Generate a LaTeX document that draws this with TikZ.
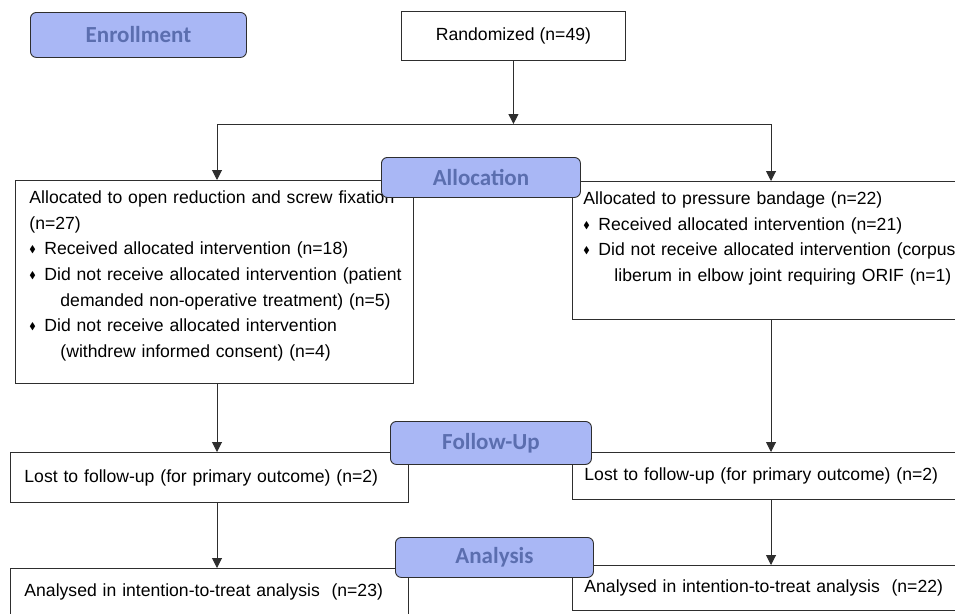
\documentclass[tikz,border=0pt]{standalone}
\usepackage{fontspec}
\usepackage{amssymb}
\setmainfont{Liberation Sans}
\newfontfamily\headfont{Carlito}
\usetikzlibrary{arrows.meta}
\definecolor{phasefill}{HTML}{A9B7F5}
\definecolor{phasetext}{HTML}{5B6EAF}
\definecolor{edgegray}{HTML}{2E2E2E}
\newcommand{\dia}{\makebox[15pt][l]{\raisebox{2pt}{\scalebox{0.55}{$\blacklozenge$}}}}
\newcommand{\cont}{\hspace*{31pt}}

\begin{document}
\begin{tikzpicture}[x=1pt, y=-1pt,
  phase/.style={draw=edgegray, line width=0.9pt, rounded corners=6pt, fill=phasefill, text=phasetext,
    font=\headfont\bfseries\fontsize{23}{26}\selectfont, anchor=north west, inner sep=0pt},
  info/.style={draw=edgegray, line width=0.9pt, fill=white, anchor=north west, align=left,
    font=\fontsize{17.6}{25.7}\selectfont, inner xsep=14pt},
  arr/.style={draw=edgegray, line width=1pt, -{Triangle[length=10pt,width=10pt]}},
  link/.style={draw=edgegray, line width=1pt}]
  \path[use as bounding box] (0,0) rectangle (955,613);
  \clip (0,0) rectangle (955,613);

  % top of the chart
  \node[info, align=center, inner sep=0pt, minimum width=224pt, minimum height=49pt] (rand) at (401,11) {Randomized (n=49)};

  % allocation
  \node[info, text width=370pt, inner ysep=10pt, text height=13pt, text depth=170pt] (orif) at (15,180)
    {\mbox{Allocated to open reduction and screw fixation}\\
     (n=27)\\
     \mbox{\dia Received allocated intervention (n=18)}\\
     \mbox{\dia Did not receive allocated intervention (patient}\\
     \mbox{\cont demanded non-operative treatment) (n=5)}\\
     \mbox{\dia Did not receive allocated intervention}\\
     \mbox{\cont (withdrew informed consent) (n=4)}};
  \node[info, text width=385pt, inner xsep=11pt, inner ysep=10pt, text height=13pt, text depth=105pt] (band) at (572,181)
    {\mbox{Allocated to pressure bandage (n=22)}\\
     \mbox{\dia Received allocated intervention (n=21)}\\
     \mbox{\dia Did not receive allocated intervention (corpus}\\
     \mbox{\cont liberum in elbow joint requiring ORIF (n=1)}};

  % follow-up
  \node[info, text width=370pt, minimum height=50pt] (lostL) at (10,452) {Lost to follow-up (for primary outcome) (n=2)};
  \node[info, text width=385pt, inner xsep=12pt, minimum height=47pt] (lostR) at (572,452) {Lost to follow-up (for primary outcome) (n=2)};

  % analysis
  \node[info, text width=370pt, minimum height=46pt] (ittL) at (10,568) {Analysed in intention-to-treat analysis\ \ (n=23)};
  \node[info, text width=385pt, inner xsep=12pt, minimum height=45pt] (ittR) at (572,565) {Analysed in intention-to-treat analysis\ \ (n=22)};

  % phase labels
  \node[phase, minimum width=216pt, minimum height=45pt] (enrol) at (30,12) {Enrollment};
  \node[phase, minimum width=199pt, minimum height=40pt] (alloc) at (381,157) {Allocation};
  \node[phase, minimum width=201pt, minimum height=43pt] (follow) at (390,421) {Follow-Up};
  \node[phase, minimum width=198pt, minimum height=40pt] (analy) at (395,537) {Analysis};

  % connectors
  \coordinate (lcol) at (217,124);
  \coordinate (rcol) at (771,124);
  \draw[arr] (rand.south) -- (rand.south |- lcol);
  \draw[link] (lcol) -- (rcol);
  \draw[arr] (lcol) -- (lcol |- orif.north);
  \draw[arr] (rcol) -- (rcol |- band.north);
  \draw[arr] (lcol |- orif.south) -- (lcol |- lostL.north);
  \draw[arr] (rcol |- band.south) -- (rcol |- lostR.north);
  \draw[arr] (lcol |- lostL.south) -- (lcol |- ittL.north);
  \draw[arr] (rcol |- lostR.south) -- (rcol |- ittR.north);
\end{tikzpicture}
\end{document}
